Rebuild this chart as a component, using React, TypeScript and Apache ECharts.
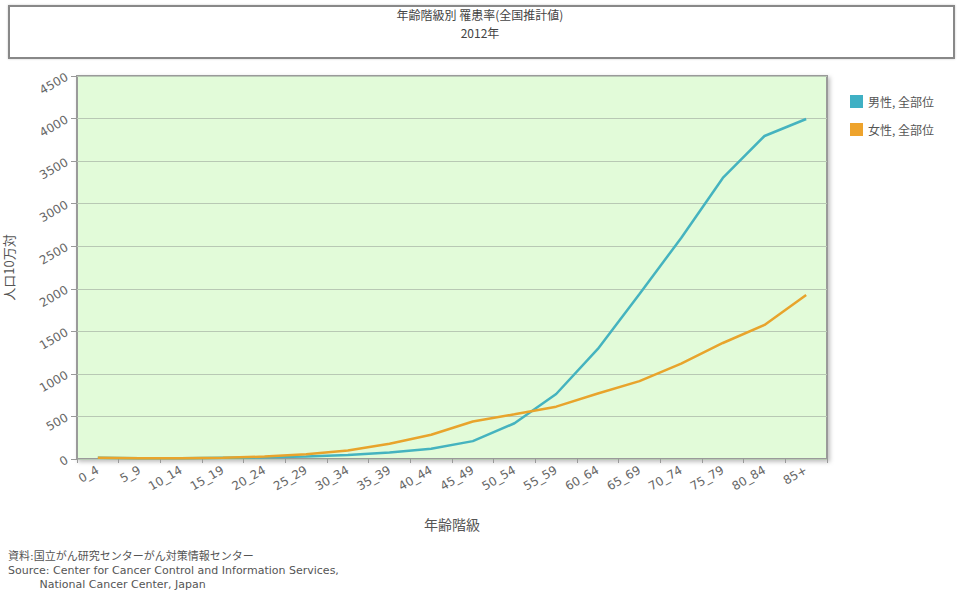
import React, { useEffect, useRef } from "react";
import * as echarts from "echarts";

const categories = ["0_4","5_9","10_14","15_19","20_24","25_29","30_34","35_39","40_44","45_49","50_54","55_59","60_64","65_69","70_74","75_79","80_84","85+"];
const maleValues = [15, 10, 10, 15, 20, 30, 48, 75, 120, 210, 420, 764, 1293, 1939, 2597, 3302, 3795, 3995];
const femaleValues = [15, 10, 10, 15, 28, 55, 100, 180, 285, 440, 525, 615, 770, 915, 1120, 1363, 1575, 1927];
const seriesNames = ["男性, 全部位", "女性, 全部位"];
const titleLines = ["年齢階級別 罹患率(全国推計値)", "2012年"];
const sourceLines = [
  "資料:国立がん研究センターがん対策情報センター",
  "Source: Center for Cancer Control and Information Services,",
  "         National Cancer Center, Japan",
];

const FONT = "'Noto Sans CJK JP', 'Noto Sans', sans-serif";
const LATIN = "Verdana, 'DejaVu Sans', 'Noto Sans CJK JP', sans-serif";

export default function App() {
  const ref = useRef<HTMLDivElement>(null);
  useEffect(() => {
    const chart = echarts.init(ref.current!, null, { renderer: "svg" });
    chart.setOption({
      animation: false,
      backgroundColor: "#ffffff",
      textStyle: { fontFamily: FONT },
      grid: {
        left: 77,
        right: 130,
        top: 76,
        bottom: 133,
        containLabel: false,
        outerBoundsMode: "none",
        show: true,
        backgroundColor: "#e2fbd9",
        borderColor: "#9a9a9a",
        borderWidth: 2,
        shadowColor: "rgba(0,0,0,0.25)",
        shadowBlur: 4,
        shadowOffsetX: 2,
        shadowOffsetY: 2,
      },
      legend: {
        orient: "vertical",
        left: 845,
        top: 90,
        itemWidth: 13,
        itemHeight: 13,
        itemGap: 15,
        icon: "rect",
        textStyle: { color: "#555", fontSize: 12, fontFamily: FONT },
        data: seriesNames,
      },
      xAxis: {
        type: "category",
        data: categories,
        boundaryGap: true,
        name: "年齢階級",
        nameLocation: "middle",
        nameGap: 58,
        nameTextStyle: { color: "#555", fontSize: 14, fontFamily: FONT },
        axisLine: { show: false },
        axisTick: { show: true, alignWithLabel: false, length: 4, lineStyle: { color: "#999" } },
        axisLabel: { rotate: 30, color: "#666", fontSize: 12, margin: 10, fontFamily: LATIN },
        splitLine: { show: false },
      },
      yAxis: {
        type: "value",
        min: 0,
        max: 4500,
        interval: 500,
        name: "人口10万対",
        nameLocation: "middle",
        nameRotate: 90,
        nameGap: 62,
        nameTextStyle: { color: "#555", fontSize: 13, fontFamily: FONT },
        axisLine: { show: false },
        axisTick: { show: true, length: 6, lineStyle: { color: "#999" } },
        axisLabel: {
          rotate: 30,
          color: "#666",
          fontSize: 12,
          margin: 10,
          fontFamily: LATIN,
          formatter: (v: number) => String(v),
        },
        splitLine: { show: true, lineStyle: { color: "#b8c8b4", width: 1 } },
      },
      series: [
        {
          name: seriesNames[0],
          type: "line",
          data: maleValues,
          symbol: "none",
          color: "#3fb0c4",
          lineStyle: { color: "#45b3bf", width: 2.5 },
        },
        {
          name: seriesNames[1],
          type: "line",
          data: femaleValues,
          symbol: "none",
          color: "#eea32c",
          lineStyle: { color: "#e8a42c", width: 2.5 },
        },
      ],
      graphic: [
        {
          type: "rect",
          left: 8,
          top: 5,
          shape: { width: 945, height: 52 },
          style: { fill: "#fff", stroke: "#888", lineWidth: 2, shadowColor: "rgba(0,0,0,0.2)", shadowBlur: 2 },
          z: 0,
        },
        {
          type: "text",
          x: 480,
          y: 8,
          style: { text: titleLines[0], align: "center", fill: "#444", fontSize: 12, fontFamily: FONT },
        },
        {
          type: "text",
          x: 480,
          y: 26,
          style: { text: titleLines[1], align: "center", fill: "#444", fontSize: 12, fontFamily: FONT },
        },
        ...sourceLines.map((line, i) => ({
          type: "text",
          x: 8,
          y: 551 + i * 14,
          style: { text: line, fill: "#555", fontSize: 11, fontFamily: LATIN },
        })),
      ],
    });
    return () => chart.dispose();
  }, []);
  return <div ref={ref} style={{ width: 957, height: 592, position: "absolute", left: 0, top: 0 }} />;
}
